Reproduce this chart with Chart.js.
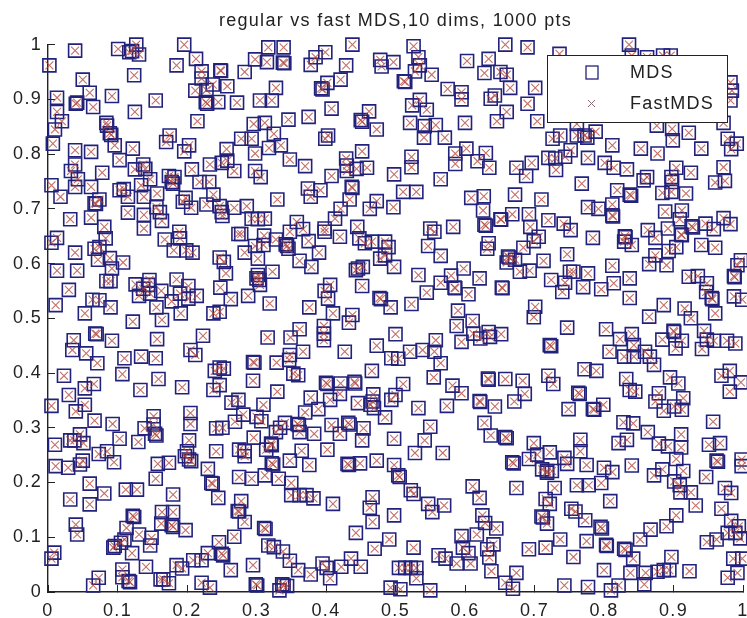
<!DOCTYPE html>
<html>
<head>
<meta charset="utf-8">
<title>regular vs fast MDS</title>
<script src="https://cdn.jsdelivr.net/npm/chart.js@4/dist/chart.umd.min.js"></script>
<style>
  html, body { margin: 0; padding: 0; background: #fff; }
  canvas { display: block; }
</style>
</head>
<body>
<canvas id="chart" width="747" height="618"></canvas>
<script>
// values, left to right per region
const mdsX = [
.039,.002,.101,.117,.121,.127,.131,.196,.213,.185,.124,.248,.249,.283,.221,.221,.050,.237,.258,.212,.228,.060,.092,.013,.040,.042,.065,.155,.245,.272,.227,.229,.013,.125,.020,.010,.215,.084,.085,.089,.091,.175,.170,.007,.096,.122,.039,.062,.203,.196,.257,.278,.103,.039,.033,.137,.125,.140,.078,.207,.233,.250,.258,.268,.043,.147,.174,.182,.178,.180,.039,.005,.062,.218,.232,.103,.109,.134,.157,.018,.138,.115,.238,.198,.194,.067,.069,.074,.228,.247,.268,.286,.156,
.115,.032,.062,.138,.161,.164,.138,.081,.189,.083,.013,.005,.168,.190,.274,.278,.067,.074,.039,.181,.199,.208,.072,.089,.247,.253,.283,.108,.013,.042,.092,.256,.090,.084,.126,.146,.185,.202,.030,.248,.144,.137,.131,.147,.163,.190,.214,.202,.178,.263,.288,.011,.064,.074,.090,.156,.191,.053,.238,.247,.164,.122,.068,.070,.037,.092,.157,.223,.035,.205,.055,.212,.071,.110,.134,.155,.247,.253,.240,.023,.107,.159,.066,.053,.193,.133,.247,.238,.030,.274,.264,.005,.053,.250,.251,.206,
.040,.067,.205,.093,.205,.152,.152,.139,.154,.156,.251,.242,.269,.281,.046,.032,.038,.051,.010,.103,.130,.203,.073,.085,.200,.197,.242,.275,.283,.283,.203,.158,.174,.206,.095,.011,.029,.050,.046,.230,.155,.275,.060,.112,.128,.235,.237,.081,.180,.032,.245,.060,.278,.273,.275,.122,.124,.164,.180,.283,.040,.163,.113,.178,.180,.198,.042,.131,.110,.149,.268,.147,.096,.105,.246,.094,.121,.230,.009,.005,.250,.252,.141,.209,.221,.185,.193,.263,.107,.073,.107,.065,.116,.118,.162,.166,.174,.221,.233,
.298,.317,.339,.315,.338,.340,.385,.399,.378,.438,.429,.421,.402,.393,.395,.328,.305,.322,.408,.375,.346,.462,.450,.452,.473,.296,.312,.325,.293,.403,.399,.318,.335,.298,.348,.370,.429,.452,.430,.430,.444,.459,.298,.306,.408,.374,.392,.378,.437,.438,.434,.330,.473,.478,.480,.497,.526,.533,.535,.528,.552,.512,.514,.575,.595,.595,.535,.524,.545,.521,.542,.558,.541,.571,.600,.586,.602,.586,.618,.630,.635,.523,.523,.498,.565,.511,.530,.609,.627,.603,.634,.628,.643,.637,.646,
.421,.463,.497,.293,.312,.302,.626,.358,.413,.348,.367,.398,.398,.583,.445,.550,.556,.628,.630,.311,.328,.342,.344,.346,.420,.375,.310,.298,.448,.456,.466,.485,.490,.634,.632,.547,.565,.390,.302,.362,.478,.485,.379,.498,.323,.443,.453,.446,.302,.304,.305,.300,.533,.598,.580,.621,.565,.585,.586,.545,.605,.406,.398,.403,.452,.477,.479,.493,.523,.319,.376,.590,.410,.438,.433,.611,.588,.362,.397,.397,.397,.349,.316,.500,.612,.622,.634,.636,.595,.473,.427,.558,.556,.539,.521,.367,.348,.494,.504,.347,.329,.295,.297,.565,.466,.353,.360,.555,.295,.511,.582,.595,.633,.634,.400,.402,.421,.441,.442,.420,.330,.378,.468,.500,.494,.406,.446,.467,.469,.464,.310,.621,.622,.574,.643,.533,.389,.370,
.300,.307,.341,.359,.361,.334,.328,.362,.383,.408,.432,.420,.434,.454,.452,.485,.550,.542,.528,.568,.498,.628,.637,.296,.321,.322,.314,.365,.402,.348,.376,.322,.324,.431,.433,.449,.473,.498,.504,.506,.312,.293,.332,.350,.350,.362,.372,.382,.410,.467,.463,.522,.526,.547,.553,.570,.498,.467,.611,.621,.625,.629,.311,.313,.443,.491,.470,.526,.317,.325,.338,.348,.295,.360,.378,.395,.401,.406,.422,.436,.450,.505,.514,.522,.530,.530,.562,.572,.588,.597,.595,.617,.605,.608,.645,.632,.635,.641,.638,.550,.493,.507,.299,.301,.337,.339,.333,.344,
.658,.690,.736,.836,.651,.660,.665,.701,.690,.660,.704,.982,.984,.982,.840,.862,.885,.896,.761,.788,.876,.898,.922,.972,.726,.737,.761,.772,.776,.812,.899,.853,.877,.940,.978,.991,.983,.752,.720,.730,.744,.731,.777,.801,.814,.833,.696,.674,.688,.904,.925,.972,.974,.960,.897,.898,.862,.857,.768,.819,.837,.839,.884,.897,.918,.672,.710,.812,
.668,.651,.652,.692,.720,.742,.752,.694,.706,.699,.784,.812,.813,.792,.777,.888,.912,.909,.863,.874,.892,.926,.928,.946,.958,.972,.982,.912,.911,.830,.831,.829,.840,.904,.893,.940,.960,.684,.747,.662,.664,.672,.660,.713,.679,.693,.874,.865,.890,.812,.724,.744,.740,.751,.756,.777,.770,.796,.814,.837,.837,.997,.992,.987,.988,.922,.935,.948,.947,.955,.956,.987,.999,.960,.653,.654,.886,.701,.699,.865,.916,.925,.747,.803,.652,.840,.823,.944,.900,.901,.884,.912,.903,.843,.948,.958,.977,.989,.941,.808,.722,.724,.859,.866,.872,.829,.843,.658,.683,.720,.727,.772,.789,.832,.895,.907,.969,.981,.997,.981,.763,.765,.837,.845,.686,.671,.914,.879,.874,.749,.799,.886,.901,.912,.784,.786,
.828,.842,.957,.863,.658,.660,.699,.766,.704,.722,.766,.692,.668,.670,.743,.747,.775,.821,.833,.879,.892,.911,.911,.951,.967,.904,.962,.964,.998,.998,.840,.800,.812,.884,.872,.914,.947,.718,.711,.725,.718,.974,.983,.901,.909,.910,.925,.932,.969,.674,.729,.761,.778,.796,.716,.722,.809,.753,.759,.773,.710,.712,.718,.795,.797,.904,.890,.867,.852,.692,.716,.737,.775,.756,.803,.804,.829,.831,.842,.897,.838,.800,.860,.877,.886,.894,.923,.858,.821,.810,.743,.777,.674,.658,.669,.948,.962,.978,.983,.994,.989,.996,.986,.999,.992,.978
];
const mdsY = [
.989,.962,.992,.986,.988,1,.982,1,.974,.962,.944,.953,.952,.950,.951,.938,.936,.927,.924,.916,.917,.912,.906,.903,.892,.894,.886,.898,.895,.894,.895,.892,.877,.877,.860,.845,.860,.857,.852,.838,.835,.834,.822,.819,.816,.810,.807,.804,.816,.805,.809,.828,.789,.781,.769,.781,.772,.773,.766,.772,.781,.784,.788,.769,.754,.754,.760,.758,.749,.746,.740,.743,.740,.749,.749,.734,.736,.743,.728,.722,.722,.722,.726,.720,.713,.710,.709,.717,.708,.705,.702,.705,.703,
.693,.681,.684,.689,.694,.678,.664,.667,.658,.646,.647,.638,.644,.646,.654,.654,.627,.630,.620,.624,.624,.620,.607,.610,.611,.603,.620,.602,.587,.587,.591,.582,.568,.568,.562,.570,.571,.559,.552,.556,.561,.554,.541,.545,.550,.545,.541,.536,.531,.535,.541,.524,.534,.533,.520,.520,.509,.509,.509,.512,.497,.494,.472,.471,.460,.459,.462,.468,.442,.442,.436,.433,.418,.427,.430,.427,.410,.408,.404,.395,.398,.389,.380,.372,.374,.369,.378,.369,.360,.351,.346,.340,.342,.694,.687,.702,
.330,.313,.327,.307,.307,.321,.306,.299,.289,.286,.300,.299,.311,.324,.288,.277,.277,.272,.269,.280,.274,.277,.252,.257,.257,.248,.257,.260,.257,.248,.242,.234,.236,.239,.237,.230,.227,.240,.233,.225,.207,.210,.198,.187,.187,.199,.198,.180,.178,.169,.172,.160,.166,.148,.147,.139,.137,.146,.146,.128,.123,.125,.117,.122,.119,.113,.105,.105,.096,.099,.101,.085,.084,.090,.091,.081,.071,.071,.072,.061,.070,.067,.046,.058,.058,.049,.043,.040,.041,.026,.027,.012,.020,.018,.023,.023,.016,.017,.008,
.973,.995,.995,.968,.967,.966,.977,.986,.963,1,.962,.936,.930,.920,.918,.921,.898,.898,.883,.868,.863,.878,.862,.859,.845,.855,.857,.837,.828,.834,.828,.811,.816,.801,.790,.778,.792,.805,.779,.769,.773,.775,.769,.758,.760,.737,.734,.722,.740,.738,.717,.717,.714,.972,.960,.968,.997,.977,.962,.951,.945,.933,.932,.919,.913,.900,.899,.889,.881,.857,.851,.853,.830,.830,.857,.801,.810,.782,.787,.802,.775,.795,.776,.763,.754,.731,.731,.720,.723,.970,.974,.948,.907,.901,.860,
.700,.700,.703,.682,.682,.681,.697,.676,.682,.658,.663,.658,.664,.667,.667,.664,.658,.671,.669,.651,.644,.635,.632,.627,.649,.641,.634,.632,.646,.637,.640,.640,.630,.637,.627,.632,.614,.620,.609,.605,.609,.615,.594,.594,.585,.588,.594,.591,.579,.570,.561,.573,.579,.591,.578,.573,.565,.556,.555,.547,.544,.561,.550,.536,.559,.537,.535,.520,.526,.527,.520,.514,.509,.506,.492,.495,.486,.480,.486,.472,.460,.465,.465,.471,.472,.463,.475,.466,.457,.450,.439,.460,.439,.442,.439,.439,.433,.427,.426,.424,.419,.420,.419,.418,.404,.399,.396,.392,.386,.380,.377,.363,.390,.388,.382,.380,.381,.384,.381,.362,.366,.355,.361,.360,.351,.351,.345,.348,.336,.342,.342,.349,.347,.340,.339,.336,.334,.328,
.320,.312,.309,.307,.305,.300,.292,.292,.289,.305,.309,.289,.306,.299,.277,.319,.302,.277,.254,.254,.280,.309,.286,.282,.271,.268,.260,.258,.260,.240,.232,.235,.233,.234,.232,.235,.240,.232,.213,.210,.213,.207,.207,.199,.177,.177,.177,.171,.161,.173,.154,.186,.179,.161,.146,.158,.140,.128,.193,.172,.140,.126,.117,.115,.108,.096,.079,.081,.085,.082,.074,.057,.049,.040,.032,.052,.044,.025,.046,.061,.046,.044,.044,.044,.044,.025,.067,.061,.052,.081,.102,.105,.071,.052,.116,.078,.063,.087,.038,.003,.008,.005,.014,.012,.014,.012,.003,.011,
1,.995,.983,1,.950,.945,.921,.921,.892,.877,.860,.931,.916,.898,.980,.977,.980,.980,.855,.841,.852,.846,.839,.857,.828,.834,.834,.834,.830,.816,.825,.810,.801,.810,.828,.819,.809,.807,.793,.792,.795,.771,.793,.784,.775,.772,.784,.775,.760,.775,.766,.776,.751,.748,.758,.749,.758,.752,.746,.734,.726,.724,.729,.731,.728,.726,.717,.708,
.690,.681,.680,.690,.679,.673,.661,.667,.649,.641,.647,.688,.686,.700,.703,.695,.697,.681,.661,.647,.664,.668,.666,.673,.663,.683,.672,.652,.653,.650,.648,.640,.634,.630,.623,.634,.629,.629,.617,.613,.611,.607,.602,.605,.585,.587,.615,.599,.597,.596,.570,.565,.548,.585,.585,.582,.557,.553,.564,.573,.537,.606,.597,.577,.575,.576,.577,.564,.548,.537,.535,.540,.534,.509,.556,.555,.524,.521,.502,.503,.518,.500,.483,.480,.471,.471,.462,.477,.477,.475,.461,.459,.445,.451,.461,.459,.459,.454,.444,.439,.451,.449,.439,.430,.415,.430,.430,.389,.386,.395,.380,.407,.404,.389,.392,.381,.395,.404,.383,.366,.364,.362,.369,.366,.362,.348,.354,.363,.348,.334,.342,.331,.339,.333,.334,.333,
.310,.308,.311,.292,.283,.281,.272,.278,.251,.255,.257,.243,.237,.235,.245,.234,.232,.272,.278,.271,.266,.288,.264,.269,.272,.243,.240,.238,.242,.230,.231,.227,.219,.224,.213,.221,.210,.221,.224,.221,.218,.190,.181,.202,.195,.182,.182,.158,.152,.190,.190,.195,.195,.199,.170,.161,.166,.152,.147,.131,.138,.136,.125,.119,.116,.140,.120,.114,.096,.078,.081,.096,.093,.064,.086,.084,.079,.077,.061,.064,.035,.040,.035,.037,.040,.040,.038,.014,.012,.003,.012,.009,.035,.017,.006,.091,.096,.108,.130,.120,.108,.098,.061,.061,.035,.026
];
const fastX = mdsX;
const fastY = mdsY;
const tickLabels = ['0', '0.1', '0.2', '0.3', '0.4', '0.5', '0.6', '0.7', '0.8', '0.9', '1'];
const seriesNames = ['MDS', 'FastMDS'];
const chartTitle = 'regular vs fast MDS,10 dims, 1000 pts';

const blue = '#22227c';
const red = 'rgba(175,65,55,0.75)';
const ink = '#222';
const font = '"Liberation Sans", Arial, sans-serif';

function toPoints(xs, ys) {
  return xs.map((x, i) => ({ x: x, y: ys[i] }));
}

// the reference text is set wider than Liberation Sans
const wideText = {
  id: 'wideText',
  beforeDraw(chart) {
    chart.ctx.letterSpacing = '1.3px';
  }
};

// matlab style legend box sitting on top of the marks
const legendBox = {
  id: 'legendBox',
  afterDraw(chart) {
    const ctx = chart.ctx;
    ctx.save();
    ctx.fillStyle = '#fff';
    ctx.strokeStyle = ink;
    ctx.lineWidth = 1;
    ctx.fillRect(547, 55, 181, 67);
    ctx.strokeRect(547.5, 55.5, 180, 67);
    ctx.strokeStyle = blue;
    ctx.lineWidth = 1.3;
    ctx.strokeRect(586, 66, 12, 13);
    ctx.strokeStyle = '#8a6a70';
    ctx.lineWidth = 1;
    ctx.beginPath();
    ctx.moveTo(588, 100);
    ctx.lineTo(595, 107);
    ctx.moveTo(595, 100);
    ctx.lineTo(588, 107);
    ctx.stroke();
    ctx.fillStyle = ink;
    ctx.font = '18px ' + font;
    ctx.textBaseline = 'middle';
    ctx.fillText(seriesNames[0], 630, 73);
    ctx.fillText(seriesNames[1], 630, 104);
    ctx.restore();
  }
};

const axisOpts = {
  type: 'linear',
  min: 0,
  max: 1,
  border: { color: ink, width: 1.4 },
  grid: { drawOnChartArea: false, tickLength: -7, color: ink, tickWidth: 1 }
};

function tickText(value) {
  return tickLabels[Math.round(value * 10)];
}

// plot box has a fixed place, so drop the room chart.js keeps for end labels
function fitX(scale) {
  scale.height = 26;
  scale.paddingLeft = 0;
  scale.paddingRight = 0;
}

function fitY(scale) {
  scale.width = 48;
  scale.paddingTop = 0;
  scale.paddingBottom = 0;
}

new Chart(document.getElementById('chart'), {
  type: 'scatter',
  data: {
    datasets: [
      {
        label: seriesNames[0],
        data: toPoints(mdsX, mdsY),
        pointStyle: 'rect',
        pointRadius: 9.2,
        borderColor: blue,
        borderWidth: 1.6,
        backgroundColor: 'transparent',
        clip: false,
        order: 1
      },
      {
        label: seriesNames[1],
        data: toPoints(fastX, fastY),
        pointStyle: 'crossRot',
        pointRadius: 5.6,
        borderColor: red,
        borderWidth: 1.1,
        clip: false,
        order: 0
      }
    ]
  },
  options: {
    responsive: false,
    animation: false,
    layout: { autoPadding: false, padding: { right: 4 } },
    plugins: {
      legend: { display: false },
      tooltip: { enabled: false },
      title: {
        display: true,
        fullSize: false,
        text: chartTitle,
        color: ink,
        font: { family: font, size: 18, weight: 'normal' },
        padding: { top: 10, bottom: 13 }
      }
    },
    scales: {
      x: Object.assign({}, axisOpts, {
        afterFit: fitX,
        ticks: { stepSize: 0.1, maxRotation: 0, color: ink, padding: 15, callback: tickText, font: { family: font, size: 18 } }
      }),
      y: Object.assign({}, axisOpts, {
        afterFit: fitY,
        ticks: { stepSize: 0.1, color: ink, padding: 13, callback: tickText, font: { family: font, size: 18 } }
      })
    }
  },
  plugins: [wideText, legendBox]
});
</script>
</body>
</html>
